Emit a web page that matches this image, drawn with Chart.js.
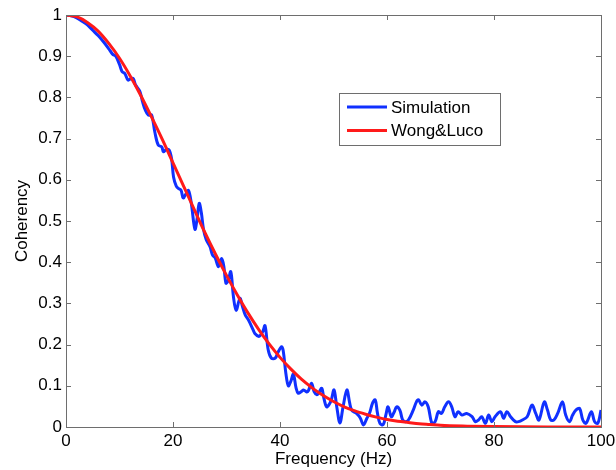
<!DOCTYPE html>
<html>
<head>
<meta charset="utf-8">
<script src="https://cdn.jsdelivr.net/npm/chart.js@4"></script>
<style>
  html, body { margin: 0; padding: 0; background: #fff; }
  #wrap { width: 616px; height: 470px; }
</style>
</head>
<body>
<div id="wrap"><canvas id="coh" width="616" height="470"></canvas></div>
<script>
// values
var simFreq = [0, 1, 2, 3, 4, 5, 6, 7, 8, 8.7, 9.3, 10, 10.5, 11, 11.6, 12.2, 12.6,
  13.0, 13.8, 14.3, 14.8, 15.4, 16.0, 16.6, 17.25, 17.9, 18.2, 18.8, 19.3, 19.75,
  20.1, 20.6, 21.0, 21.5, 21.9, 22.4, 22.9, 23.4, 24.1, 24.5, 24.9, 25.3, 25.7,
  26.2, 26.9, 27.4, 27.9, 28.5, 29.1, 29.5, 29.9, 30.3, 30.8, 31.3, 31.8, 32.5,
  33.0, 33.5, 34.0, 34.4, 35.0, 35.3, 36.0, 36.3, 36.8, 37.2, 37.8, 38.4, 39.1,
  39.7, 40.3, 40.6, 41.1, 41.55, 42.0, 42.5, 43.0, 43.4, 44.0, 44.4, 45.0, 45.3,
  45.9, 46.4, 46.9, 47.3, 47.8, 48.2, 48.7, 49.2, 49.6, 50.1, 50.6, 51.2, 51.8,
  52.5, 53.0, 53.4, 54.3, 55.0, 55.6, 56.2, 56.8, 57.3, 57.8, 58.2, 58.7, 59.3,
  59.8, 60.2, 60.8, 61.3, 61.8, 62.4, 62.9, 63.4, 64.0, 64.9, 65.5, 65.9, 66.5,
  67.1, 67.7, 68.4, 69.0, 69.6, 70.2, 70.8, 71.5, 72.1, 72.7, 73.3, 74.0, 74.9,
  75.9, 76.5, 77.1, 77.7, 78.4, 79.0, 79.6, 80.2, 81.2, 81.8, 82.4, 83.1, 84.0,
  84.6, 85.3, 86.2, 87.1, 87.8, 88.4, 89.4, 90.0, 90.6, 91.2, 91.9, 92.8, 93.4,
  94.1, 94.7, 95.3, 96.0, 96.6, 97.2, 98.2, 98.8, 99.4, 100];
var simCoh = [1.000, 0.998, 0.993, 0.985, 0.976, 0.963, 0.950, 0.935, 0.918, 0.905,
  0.900, 0.880, 0.862, 0.858, 0.842, 0.846, 0.845, 0.830, 0.815, 0.790, 0.770,
  0.757, 0.757, 0.716, 0.684, 0.680, 0.668, 0.674, 0.672, 0.650, 0.607, 0.585,
  0.579, 0.575, 0.556, 0.565, 0.574, 0.545, 0.480, 0.505, 0.543, 0.520, 0.480,
  0.455, 0.438, 0.417, 0.410, 0.389, 0.409, 0.390, 0.349, 0.355, 0.377, 0.316,
  0.283, 0.312, 0.292, 0.272, 0.262, 0.252, 0.235, 0.227, 0.220, 0.222, 0.232,
  0.246, 0.187, 0.167, 0.167, 0.183, 0.195, 0.185, 0.130, 0.100, 0.110, 0.128,
  0.095, 0.082, 0.086, 0.090, 0.085, 0.088, 0.106, 0.085, 0.078, 0.084, 0.094,
  0.070, 0.049, 0.055, 0.066, 0.090, 0.050, 0.010, 0.050, 0.090, 0.060, 0.041,
  0.033, 0.022, 0.005, 0.020, 0.036, 0.058, 0.066, 0.035, 0.008, 0.006, 0.030,
  0.049, 0.025, 0.035, 0.049, 0.041, 0.018, 0.013, 0.017, 0.041, 0.061, 0.066,
  0.053, 0.061, 0.049, 0.009, 0.013, 0.037, 0.033, 0.049, 0.061, 0.049, 0.025,
  0.037, 0.029, 0.033, 0.025, 0.013, 0.017, 0.025, 0.009, 0.029, 0.013, 0.025,
  0.037, 0.021, 0.037, 0.025, 0.013, 0.013, 0.017, 0.025, 0.053, 0.033, 0.017,
  0.061, 0.041, 0.017, 0.017, 0.033, 0.061, 0.029, 0.013, 0.029, 0.041, 0.045,
  0.017, 0.009, 0.037, 0.013, 0.009, 0.041];

var modelFreq = [0, 2, 4, 6, 8, 10, 12, 14, 16, 18, 20, 22, 24, 26, 28, 30, 32, 34,
  36, 38, 40, 42, 44, 46, 48, 50, 52, 54, 56, 58, 60, 62, 64, 66, 68, 70, 75, 80,
  90, 100];
var modelCoh = [1.000, 0.996, 0.982, 0.961, 0.931, 0.895, 0.852, 0.804, 0.752,
  0.698, 0.641, 0.584, 0.527, 0.471, 0.418, 0.368, 0.321, 0.277, 0.237, 0.201,
  0.169, 0.141, 0.116, 0.095, 0.077, 0.062, 0.049, 0.039, 0.031, 0.024, 0.018,
  0.014, 0.011, 0.008, 0.006, 0.004, 0.002, 0.001, 0.000, 0.000];

var seriesNames = ['Simulation', 'Wong&Luco'];
var xTicks = [0, 20, 40, 60, 80, 100];

var FONT = '"Liberation Sans", Arial, Helvetica, sans-serif';

function pairs(xs, ys) {
  return xs.map(function (x, i) { return { x: x, y: ys[i] }; });
}

// box round the plot, with ticks pointing inward on all four sides
var frame = {
  id: 'frame',
  afterDatasetsDraw: function (chart) {
    var c = chart.ctx, a = chart.chartArea;
    var xs = chart.scales.x, ys = chart.scales.y;
    var len = 5;
    c.save();
    c.strokeStyle = '#6e6e6e';
    c.lineWidth = 1;
    c.beginPath();
    xs.ticks.forEach(function (t) {
      var px = Math.round(xs.getPixelForValue(t.value)) + 0.5;
      c.moveTo(px, a.bottom); c.lineTo(px, a.bottom - len);
      c.moveTo(px, a.top); c.lineTo(px, a.top + len);
    });
    ys.ticks.forEach(function (t) {
      var py = Math.round(ys.getPixelForValue(t.value)) + 0.5;
      c.moveTo(a.left, py); c.lineTo(a.left + len, py);
      c.moveTo(a.right, py); c.lineTo(a.right - len, py);
    });
    c.stroke();
    c.strokeRect(Math.round(a.left) + 0.5, Math.round(a.top) + 0.5,
      Math.round(a.right - a.left), Math.round(a.bottom - a.top));
    c.restore();
  }
};

// legend box in the upper middle of the plot
var legendBox = {
  id: 'legendBox',
  afterDraw: function (chart) {
    var c = chart.ctx;
    var x0 = 339, y0 = 93, w = 161, h = 52;
    c.save();
    c.fillStyle = '#fff';
    c.fillRect(x0, y0, w, h);
    c.strokeStyle = '#6e6e6e';
    c.lineWidth = 1;
    c.strokeRect(x0 + 0.5, y0 + 0.5, w, h);
    c.font = '17px ' + FONT;
    c.textBaseline = 'middle';
    chart.data.datasets.forEach(function (ds, i) {
      var yy = y0 + 14 + i * 23.5;
      c.strokeStyle = ds.borderColor;
      c.lineWidth = 3;
      c.beginPath();
      c.moveTo(x0 + 8, yy); c.lineTo(x0 + 48, yy);
      c.stroke();
      c.fillStyle = '#000';
      c.fillText(ds.label, x0 + 52, yy + 1);
    });
    c.restore();
  }
};

new Chart(document.getElementById('coh'), {
  type: 'line',
  data: {
    datasets: [{
      label: seriesNames[0],
      data: pairs(simFreq, simCoh),
      borderColor: '#1030ff',
      borderWidth: 3,
      pointRadius: 0,
      tension: 0.35,
      order: 1
    }, {
      label: seriesNames[1],
      data: pairs(modelFreq, modelCoh),
      borderColor: '#ff1a1a',
      borderWidth: 3,
      pointRadius: 0,
      cubicInterpolationMode: 'monotone',
      order: 0
    }]
  },
  options: {
    responsive: false,
    animation: false,
    layout: { padding: { left: 0, top: 15, right: 15, bottom: 0 } },
    plugins: { legend: { display: false }, tooltip: { enabled: false } },
    scales: {
      x: {
        type: 'linear', min: 0, max: 100,
        afterBuildTicks: function (s) { s.ticks = xTicks.map(function (v) { return { value: v }; }); },
        afterFit: function (s) { s.height = 43; s.paddingRight = 0; s.paddingLeft = 0; },
        grid: { display: false, drawTicks: false },
        border: { display: false },
        ticks: { color: '#000', font: { family: FONT, size: 17 }, padding: 4, maxRotation: 0 },
        title: { display: true, text: 'Frequency (Hz)', color: '#000',
          font: { family: FONT, size: 17 }, padding: { top: 0, bottom: 0 } }
      },
      y: {
        type: 'linear', min: 0, max: 1,
        afterFit: function (s) { s.width = 66; s.paddingTop = 0; s.paddingBottom = 0; },
        grid: { display: false, drawTicks: false },
        border: { display: false },
        ticks: { stepSize: 0.1, color: '#000', font: { family: FONT, size: 17 }, padding: 4,
          callback: function (v) { return String(Math.round(v * 10) / 10); } },
        title: { display: true, text: 'Coherency', color: '#000',
          font: { family: FONT, size: 17 }, padding: { top: 12, bottom: 0 } }
      }
    }
  },
  plugins: [frame, legendBox]
});
</script>
</body>
</html>
